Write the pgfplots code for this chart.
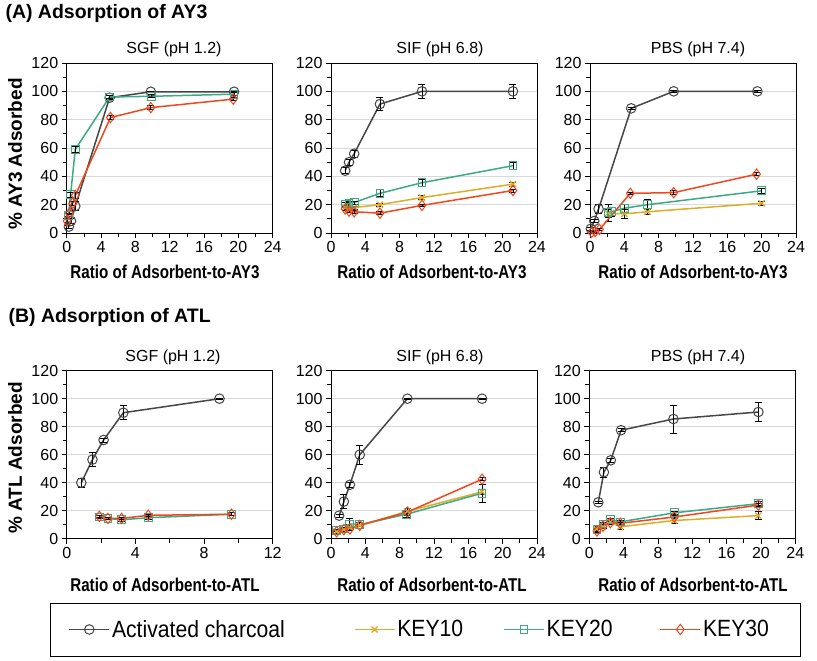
\documentclass[border=0pt]{standalone}
\usepackage{pgfplots}
\pgfplotsset{compat=1.18}
\usepackage{fontspec}
\setmainfont{Liberation Sans}
\newfontfamily\narrowfont[FakeStretch=0.82]{Liberation Sans}
\newfontfamily\legfont[FakeStretch=0.9]{Liberation Sans}
\definecolor{acc}{RGB}{70,70,70}
\definecolor{kten}{RGB}{222,172,40}
\definecolor{ktwenty}{RGB}{58,170,135}
\definecolor{kthirty}{RGB}{242,70,30}
\pgfplotsset{
  panel/.style={scale only axis, anchor=south west, width=206pt, height=170pt,
    xmin=0, xmax=24, ymin=0, ymax=120, xtick={0,4,...,24}, ytick={0,20,...,120},
    minor x tick num=1, minor y tick num=1, tick pos=left, tick align=outside,
    ymajorgrids, major grid style={draw=black!15, line width=0.8pt},
    axis line style={black, line width=0.9pt},
    major tick length=5pt, minor tick length=4pt,
    every tick/.style={black, line width=0.7pt},
    ticklabel style={font=\fontsize{16}{16}\selectfont},
    /pgf/number format/assume math mode=true, clip=false},
  ebar/.style={error bars/.cd, y dir=both, y explicit,
    error bar style={black, line width=0.8pt, solid},
    error mark options={rotate=90, black, mark size=3.5pt, line width=0.8pt}},
  ac/.style={color=acc, line width=1.5pt, mark=o, mark size=4.8pt, mark options={solid, line width=1pt}},
  k10/.style={color=kten, line width=1.5pt, mark=x, mark size=4.3pt, mark options={solid, line width=1.3pt}},
  k20/.style={color=ktwenty, line width=1.5pt, mark=square, mark size=3.9pt, mark options={solid, line width=1pt}},
  k30/.style={color=kthirty, line width=1.5pt, mark=diamond, mark size=5.2pt, mark options={solid, line width=1pt}},
}
\newcommand{\tfont}{\fontsize{16}{16}\selectfont}
\begin{document}
\begin{tikzpicture}
\path[use as bounding box] (0,0) rectangle (817pt,-661pt);
% ---------------- Row A ----------------
\node[anchor=west, font=\bfseries\fontsize{19.5}{20}\selectfont] at (2pt,-13pt) {(A) Adsorption of AY3};
\begin{axis}[panel, at={(66.7pt,-233pt)}]
\addplot[ac, ebar] table[x=x, y=y, y error=e] {
x y e
0.25 4.5 1
0.5 8.5 1.5
1.0 19 3
5.0 95.5 1.5
9.8 99.7 0.5
19.5 99.7 0.5
};
\addplot[k20, ebar] table[x=x, y=y, y error=e] {
x y e
0.2 12.5 1
0.45 27 2
1.0 59 2
5.0 96 1
9.9 96.5 1
19.5 98 1
};
\addplot[k30, ebar] table[x=x, y=y, y error=e] {
x y e
0.05 8.5 1
0.3 14 1
0.7 21 1.5
1.0 26.5 2
5.1 81.5 1.5
9.8 88.5 1.5
19.4 94.5 1
};
\end{axis}
\begin{axis}[panel, at={(331pt,-233pt)}]
\addplot[ac, ebar] table[x=x, y=y, y error=e] {
x y e
1.65 44 2
2.1 50 2
2.7 56 2.5
5.7 91 4.5
10.6 100 5
21.2 100 5
};
\addplot[k10, ebar] table[x=x, y=y, y error=e] {
x y e
1.65 18 1
2.1 17 1
2.7 18 1
5.7 20 1
10.6 25 1.5
21.2 34.5 1.5
};
\addplot[k20, ebar] table[x=x, y=y, y error=e] {
x y e
1.65 20.5 1
2.1 21 1
2.7 21.5 1
5.7 28 2.5
10.6 35.5 2.5
21.2 47.5 2.5
};
\addplot[k30, ebar] table[x=x, y=y, y error=e] {
x y e
1.65 17 1
2.1 15.5 1
2.7 15 1
5.7 14 1
10.6 19.5 1
21.2 30 1
};
\end{axis}
\begin{axis}[panel, at={(590pt,-233pt)}]
\addplot[ac, ebar] table[x=x, y=y, y error=e] {
x y e
0.1 3 1
0.5 8.5 1
1.0 17 3
4.8 88 1
9.75 100 0.5
19.5 100 0.5
};
\addplot[k10, ebar] table[x=x, y=y, y error=e] {
x y e
2.1 14 3
4.0 13.5 3
6.7 15 2
20 21 1.5
};
\addplot[k20, ebar] table[x=x, y=y, y error=e] {
x y e
2.1 14.5 6
2.5 15 3
4.0 17.5 3
6.7 20 3.5
20 29.8 2
};
\addplot[k30, ebar] table[x=x, y=y, y error=e] {
x y e
0.2 0.5 0.5
0.6 1 0.5
1.1 2.5 0.5
4.7 28 1
9.75 28.5 1.5
19.4 41.5 1
};
\end{axis}
\node[font=\tfont] at (174pt,-49pt) {SGF (pH 1.2)};
\node[font=\tfont] at (440pt,-49pt) {SIF (pH 6.8)};
\node[font=\tfont] at (698pt,-49pt) {PBS (pH 7.4)};
\node[rotate=90, font=\bfseries\fontsize{19}{19}\selectfont] at (15pt,-154pt) {\% AY3 Adsorbed};
\node[font=\narrowfont\bfseries\fontsize{18.5}{18.5}\selectfont] at (165pt,-272pt) {Ratio of Adsorbent-to-AY3};
\node[font=\narrowfont\bfseries\fontsize{18.5}{18.5}\selectfont] at (432pt,-272pt) {Ratio of Adsorbent-to-AY3};
\node[font=\narrowfont\bfseries\fontsize{18.5}{18.5}\selectfont] at (693pt,-272pt) {Ratio of Adsorbent-to-AY3};
% ---------------- Row B ----------------
\node[anchor=west, font=\bfseries\fontsize{19.5}{20}\selectfont] at (5pt,-317pt) {(B) Adsorption of ATL};
\begin{axis}[panel, height=168pt, xmax=12, xtick={0,4,8,12}, at={(66.7pt,-538.7pt)}]
\addplot[ac, ebar] table[x=x, y=y, y error=e] {
x y e
0.85 40 3
1.5 56.5 5
2.15 70.5 1.5
3.3 90 5
8.9 100 0.5
};
\addplot[k20, ebar] table[x=x, y=y, y error=e] {
x y e
1.9 15.5 1
2.4 14.5 1
3.2 13.5 1
4.75 15 1
9.6 17.5 1
};
\addplot[k30, ebar] table[x=x, y=y, y error=e] {
x y e
1.9 16 1
2.4 14.5 1
3.2 14.5 1
4.75 16.7 1
9.6 17.5 1
};
\end{axis}
\begin{axis}[panel, height=168pt, at={(331pt,-538.7pt)}]
\addplot[ac, ebar] table[x=x, y=y, y error=e] {
x y e
0.95 16.5 1
1.5 26.5 5
2.2 38.5 1.5
3.35 60 7
8.9 100 0.5
17.6 100 0.5
};
\addplot[k10, ebar] table[x=x, y=y, y error=e] {
x y e
0.65 5 1
1.5 6.5 1
2.2 8 2
3.35 9.5 1
8.9 19.5 2.5
17.6 33.5 2
};
\addplot[k20, ebar] table[x=x, y=y, y error=e] {
x y e
0.65 6 1
1.5 7 1
2.2 10.5 4
3.35 10 1.5
8.8 17.5 2
17.6 32.5 6.5
};
\addplot[k30, ebar] table[x=x, y=y, y error=e] {
x y e
0.65 5 1
1.5 6.5 1
2.2 7 1
3.35 9.5 1
8.9 19 1
17.6 42.5 1
};
\end{axis}
\begin{axis}[panel, height=168pt, at={(589.3pt,-538.7pt)}]
\addplot[ac, ebar] table[x=x, y=y, y error=e] {
x y e
1.05 26 1
1.7 47.5 3.5
2.5 56 1.5
3.7 77.5 1
9.8 85.5 10
19.7 90.5 7
};
\addplot[k10, ebar] table[x=x, y=y, y error=e] {
x y e
0.85 7 2
1.6 8.5 1
2.45 12 1
3.6 8.5 2
9.9 13 2
19.7 16.5 3
};
\addplot[k20, ebar] table[x=x, y=y, y error=e] {
x y e
0.9 6.5 1
1.6 10.5 1
2.45 13.5 1
3.6 12 1
9.9 18.5 1
19.7 25 1.5
};
\addplot[k30, ebar] table[x=x, y=y, y error=e] {
x y e
0.9 5.5 1
1.6 9 1
2.45 11.5 1
3.6 11 1
9.9 15.5 1
19.7 24 1
};
\end{axis}
\node[font=\tfont] at (173pt,-357pt) {SGF (pH 1.2)};
\node[font=\tfont] at (440pt,-357pt) {SIF (pH 6.8)};
\node[font=\tfont] at (698pt,-357pt) {PBS (pH 7.4)};
\node[rotate=90, font=\bfseries\fontsize{19}{19}\selectfont] at (15pt,-458pt) {\% ATL Adsorbed};
\node[font=\narrowfont\bfseries\fontsize{18.5}{18.5}\selectfont] at (165pt,-585pt) {Ratio of Adsorbent-to-ATL};
\node[font=\narrowfont\bfseries\fontsize{18.5}{18.5}\selectfont] at (432pt,-585pt) {Ratio of Adsorbent-to-ATL};
\node[font=\narrowfont\bfseries\fontsize{18.5}{18.5}\selectfont] at (693pt,-585pt) {Ratio of Adsorbent-to-ATL};
% ---------------- Legend ----------------
\draw[black, line width=1pt] (50pt,-603pt) rectangle (800pt,-656pt);
\begin{axis}[at={(0pt,-661pt)}, anchor=south west, scale only axis, width=817pt, height=661pt,
  xmin=0, xmax=1, ymin=0, ymax=1, hide axis,
  legend columns=4,
  legend image code/.code={\draw[mark repeat=2, mark phase=2] plot coordinates {(0pt,0pt) (20pt,0pt) (40pt,0pt)};},
  legend style={at={(0.08,0.0477)}, anchor=west, draw=none, fill=none,
    font=\legfont\fontsize{23.5}{23.5}\selectfont,
    /tikz/column 2/.style={column sep=67pt},
    /tikz/column 4/.style={column sep=38pt},
    /tikz/column 6/.style={column sep=45pt}}]
\addlegendimage{ac}
\addlegendentry{Activated charcoal}
\addlegendimage{k10}
\addlegendentry{KEY10}
\addlegendimage{k20}
\addlegendentry{KEY20}
\addlegendimage{k30}
\addlegendentry{KEY30}
\end{axis}
\end{tikzpicture}
\end{document}
